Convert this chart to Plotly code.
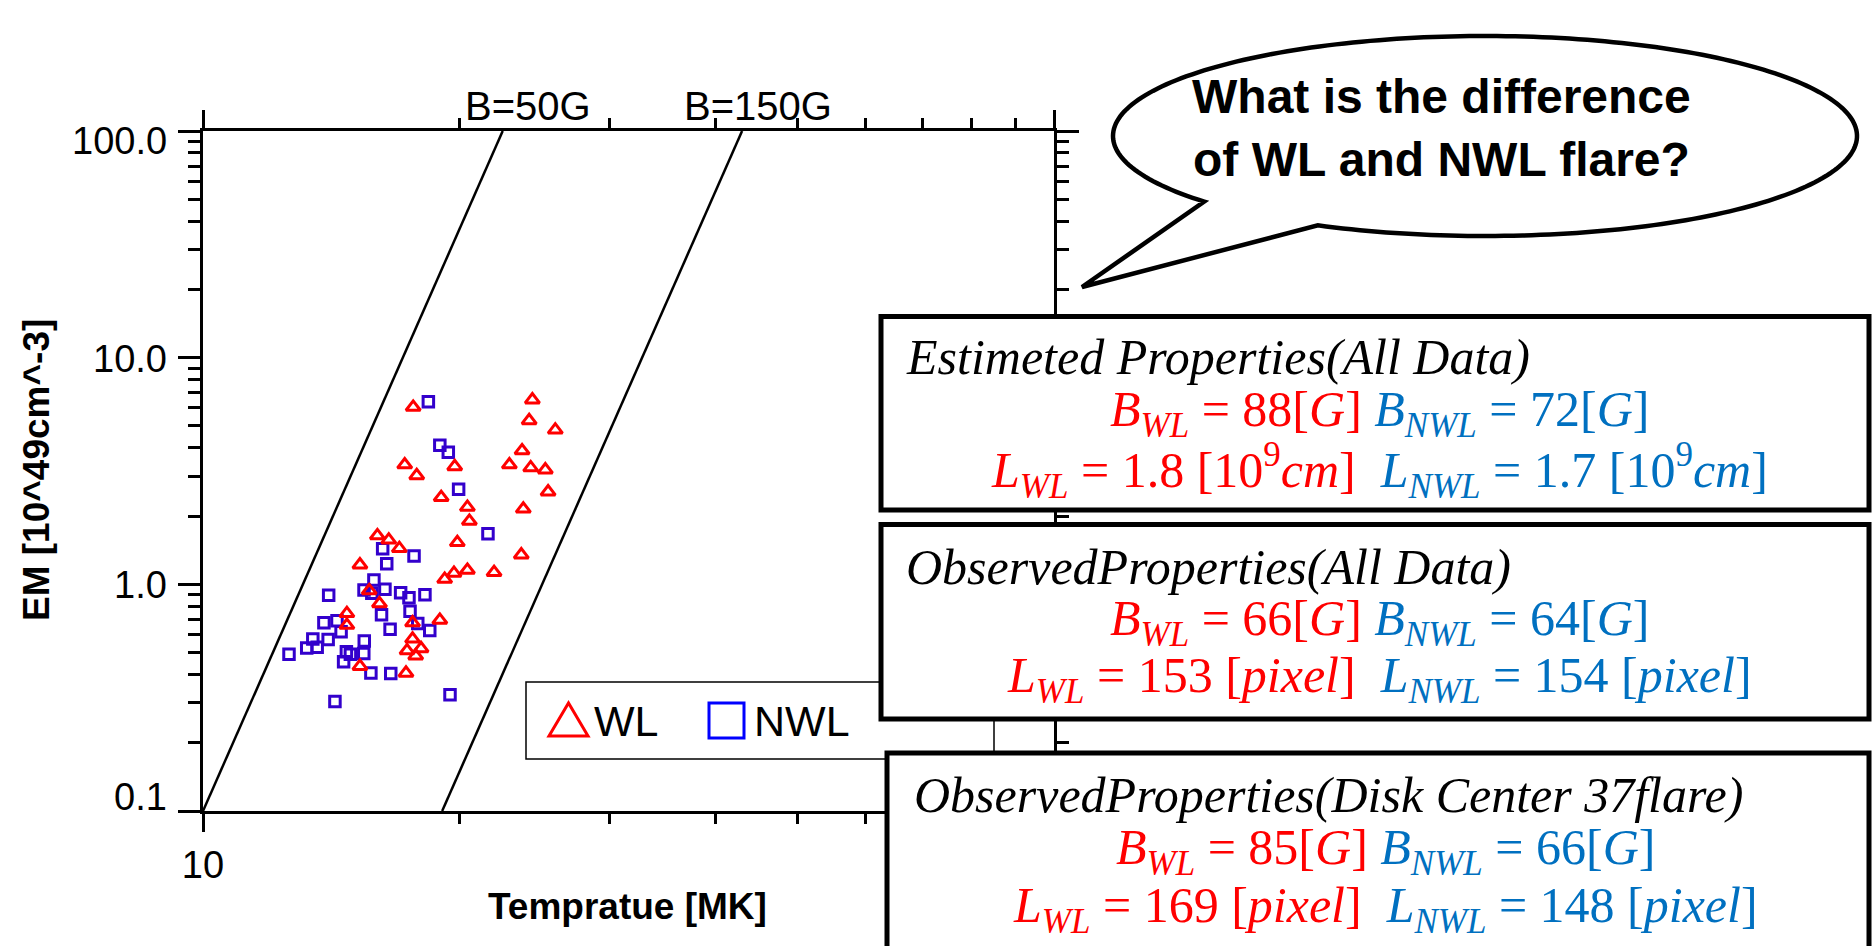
import numpy as np
import plotly.graph_objects as go

# ---------------- data ----------------
WL_T = [17.66, 24.38, 24.17, 25.94, 23.71, 17.26, 17.83, 19.76, 22.91, 24.27,
        25.25, 25.44, 19.05, 20.45, 20.56, 23.79, 16.03, 16.53, 17.01, 19.90,
        23.66, 15.29, 20.45, 19.72, 19.23, 21.98, 15.68, 16.12, 14.76, 14.76,
        17.63, 18.98, 17.63, 17.37, 18.04, 17.78, 15.29, 17.32]
WL_EM = [6.05, 6.52, 5.28, 4.80, 3.89, 3.37, 3.02, 3.31, 3.37, 3.27,
         3.20, 2.56, 2.42, 2.19, 1.90, 2.15, 1.64, 1.57, 1.44, 1.53,
         1.35, 1.22, 1.155, 1.12, 1.054, 1.129, 0.938, 0.822, 0.744, 0.660,
         0.677, 0.695, 0.574, 0.510, 0.521, 0.484, 0.435, 0.406]

NWL_T = [18.40, 18.98, 19.42, 19.97, 21.62, 16.26, 17.70, 16.44, 15.88, 15.46,
         16.36, 15.79, 14.05, 17.07, 17.46, 18.23, 17.51, 16.21, 17.88, 18.47,
         16.59, 13.87, 14.37, 14.53, 14.03, 13.46, 13.24, 13.62, 15.47, 15.45,
         14.74, 14.90, 14.63, 12.62, 15.75, 16.62, 14.29, 19.51]
NWL_EM = [6.39, 4.11, 3.83, 2.63, 1.672, 1.435, 1.332, 1.234, 1.044, 0.943,
          0.952, 0.914, 0.896, 0.919, 0.873, 0.899, 0.761, 0.735, 0.672, 0.626,
          0.634, 0.677, 0.690, 0.617, 0.571, 0.574, 0.524, 0.528, 0.563, 0.495,
          0.504, 0.491, 0.455, 0.491, 0.406, 0.404, 0.304, 0.326]

# constant-B lines (end points)
B50_T = [10.0, 22.5]
B150_T = [19.1, 43.0]
BLINE_EM = [0.1, 100.0]
BLINE_LABELS = ["B=50G", "B=150G"]

X_TICKS = [10, 100]
X_TICKTEXT = ["10", ""]
Y_TICKS = [0.1, 1, 10, 100]
Y_TICKTEXT = ["0.1", "1.0", "10.0", "100.0"]

BOX_TITLES = ["Estimeted Properties(All Data)",
              "ObservedProperties(All Data)",
              "ObservedProperties(Disk Center 37flare)"]
B_WL_VALS = ["88", "66", "85"]
B_NWL_VALS = ["72", "64", "66"]
L_WL_VALS = ["1.8", "153", "169"]
L_NWL_VALS = ["1.7", "154", "148"]
L_UNITS = ["10<sup>9</sup><i>cm</i>", "<i>pixel</i>", "<i>pixel</i>"]

BUBBLE_LINES = ["What is the difference", "of WL and NWL flare?"]

# ---------------- geometry helpers ----------------
W, H = 1874, 946
ML, MR, MT, MB = 203, 820, 131, 135
PW = W - ML - MR
PH = H - MT - MB


def px(x):
    return (x - ML) / PW


def py(y):
    return (H - MB - y) / PH


RED = "#FF0000"
TXT_BLUE = "#0070C0"
SANS = "Liberation Sans, Arial, sans-serif"
SERIF = "Liberation Serif, Times New Roman, serif"

fig = go.Figure()

for t in (B50_T, B150_T):
    fig.add_trace(go.Scatter(x=t, y=BLINE_EM, mode="lines",
                             line=dict(color="black", width=2.5),
                             hoverinfo="skip", showlegend=False))

fig.add_trace(go.Scatter(x=NWL_T, y=NWL_EM, mode="markers", name="NWL",
                         marker=dict(symbol="square-open", size=10.5,
                                     color="#3300CC", line=dict(width=3)),
                         showlegend=False))
fig.add_trace(go.Scatter(x=WL_T, y=WL_EM, mode="markers", name="WL",
                         marker=dict(symbol="triangle-up-open", size=12.5,
                                     color=RED, line=dict(width=3)),
                         showlegend=False))

axis_common = dict(type="log", showline=True, linecolor="black", linewidth=3,
                   mirror="allticks", ticks="outside", tickcolor="black",
                   tickwidth=2.5, showgrid=False, zeroline=False)

fig.update_xaxes(range=[1, 2], tickvals=X_TICKS, ticktext=X_TICKTEXT,
                 ticklen=18, tickfont=dict(family=SANS, size=38, color="black"),
                 minor=dict(ticks="outside", ticklen=10, tickwidth=2.5,
                            tickcolor="black", dtick="D1", showgrid=False),
                 **axis_common)
fig.update_yaxes(range=[-1, 2], tickvals=Y_TICKS, showticklabels=False,
                 ticklen=22,
                 minor=dict(ticks="outside", ticklen=12, tickwidth=2.5,
                            tickcolor="black", dtick="D1", showgrid=False),
                 **axis_common)

shapes = []
annots = []

# y tick labels
label_y = [797, 585, 358.5, 141.5]
for txt, yy in zip(Y_TICKTEXT, label_y):
    annots.append(dict(x=px(169), y=py(yy), xref="paper", yref="paper",
                       text=txt, showarrow=False, xanchor="right", yanchor="middle",
                       font=dict(family=SANS, size=38, color="black")))

# axis titles
annots.append(dict(x=px(627.5), y=py(906), xref="paper", yref="paper",
                   text="<b>Tempratue [MK]</b>", showarrow=False,
                   xanchor="center", yanchor="middle",
                   font=dict(family=SANS, size=37, color="black")))
annots.append(dict(x=px(36), y=py(470), xref="paper", yref="paper",
                   text="<b>EM [10^49cm^-3]</b>", showarrow=False, textangle=-90,
                   xanchor="center", yanchor="middle",
                   font=dict(family=SANS, size=37, color="black")))

# B line labels
for txt, xx in zip(BLINE_LABELS, [528, 758]):
    annots.append(dict(x=px(xx), y=py(106), xref="paper", yref="paper",
                       text=txt, showarrow=False, xanchor="center", yanchor="middle",
                       font=dict(family=SANS, size=40, color="black")))

# legend box
shapes.append(dict(type="rect", xref="paper", yref="paper",
                   x0=px(526), x1=px(994), y0=py(682), y1=py(759),
                   line=dict(color="black", width=1.5), fillcolor="white", layer="above"))
tri = f"M {px(549)},{py(736)} L {px(588)},{py(736)} L {px(568.5)},{py(703)} Z"
shapes.append(dict(type="path", xref="paper", yref="paper", path=tri,
                   line=dict(color=RED, width=3), fillcolor="rgba(0,0,0,0)", layer="above"))
shapes.append(dict(type="rect", xref="paper", yref="paper",
                   x0=px(709), x1=px(744), y0=py(738), y1=py(703),
                   line=dict(color="#0000FF", width=3), fillcolor="rgba(0,0,0,0)", layer="above"))
annots.append(dict(x=px(592), y=py(721), xref="paper", yref="paper", text="WL",
                   showarrow=False, xanchor="left", yanchor="middle",
                   font=dict(family=SANS, size=43, color="black")))
annots.append(dict(x=px(752), y=py(721), xref="paper", yref="paper", text="NWL",
                   showarrow=False, xanchor="left", yanchor="middle",
                   font=dict(family=SANS, size=43, color="black")))

# text boxes
boxes = [(881, 316.5, 510), (881, 524.5, 719), (887, 753, 975)]
title_y = [357, 567, 795]
eq1_y = [413, 622, 851]
eq2_y = [470, 679, 909]
title_x = [904, 904, 912]
eq_cx = [1379, 1379, 1385]
for i, (x0, y0, y1) in enumerate(boxes):
    shapes.append(dict(type="rect", xref="paper", yref="paper",
                       x0=px(x0), x1=px(1869), y0=py(y1), y1=py(y0),
                       line=dict(color="black", width=5), fillcolor="white", layer="above"))
    annots.append(dict(x=px(title_x[i]), y=py(title_y[i]), xref="paper", yref="paper",
                       text=f"<i>{BOX_TITLES[i]}</i>", showarrow=False,
                       xanchor="left", yanchor="middle",
                       font=dict(family=SERIF, size=50, color="black")))
    eq1 = (f'<span style="color:{RED}"><i>B</i><sub><i>WL</i></sub> = {B_WL_VALS[i]}[<i>G</i>]</span> '
           f'<span style="color:{TXT_BLUE}"><i>B</i><sub><i>NWL</i></sub> = {B_NWL_VALS[i]}[<i>G</i>]</span>')
    eq2 = (f'<span style="color:{RED}"><i>L</i><sub><i>WL</i></sub> = {L_WL_VALS[i]} [{L_UNITS[i]}]</span>  '
           f'<span style="color:{TXT_BLUE}"><i>L</i><sub><i>NWL</i></sub> = {L_NWL_VALS[i]} [{L_UNITS[i]}]</span>')
    for txt, yy in ((eq1, eq1_y[i]), (eq2, eq2_y[i])):
        annots.append(dict(x=px(eq_cx[i]), y=py(yy), xref="paper", yref="paper",
                           text=txt, showarrow=False, xanchor="center", yanchor="middle",
                           font=dict(family=SERIF, size=50, color="black")))

# speech bubble
cx, cy, rx, ry = 1485, 136, 372, 100
th = np.radians(np.linspace(139.0, 360 + 116.7, 240))
bx = cx + rx * np.cos(th)
by = cy + ry * np.sin(th)
pts = [f"{px(a):.5f},{py(b):.5f}" for a, b in zip(bx, by)]
path = "M " + " L ".join(pts) + f" L {px(1082):.5f},{py(287):.5f} Z"
shapes.append(dict(type="path", xref="paper", yref="paper", path=path,
                   line=dict(color="black", width=4.5), fillcolor="white", layer="above"))
for txt, yy in zip(BUBBLE_LINES, [97, 160]):
    annots.append(dict(x=px(1441), y=py(yy), xref="paper", yref="paper",
                       text=f"<b>{txt}</b>", showarrow=False,
                       xanchor="center", yanchor="middle",
                       font=dict(family=SANS, size=48, color="black")))

fig.update_layout(width=W, height=H, margin=dict(l=ML, r=MR, t=MT, b=MB, pad=0),
                  paper_bgcolor="white", plot_bgcolor="white",
                  showlegend=False, hovermode=False,
                  shapes=shapes, annotations=annots)

fig.write_html("out.html", config={"displayModeBar": False},
               post_script="document.body.style.margin='0px';"
                           "document.body.style.overflow='hidden';")
